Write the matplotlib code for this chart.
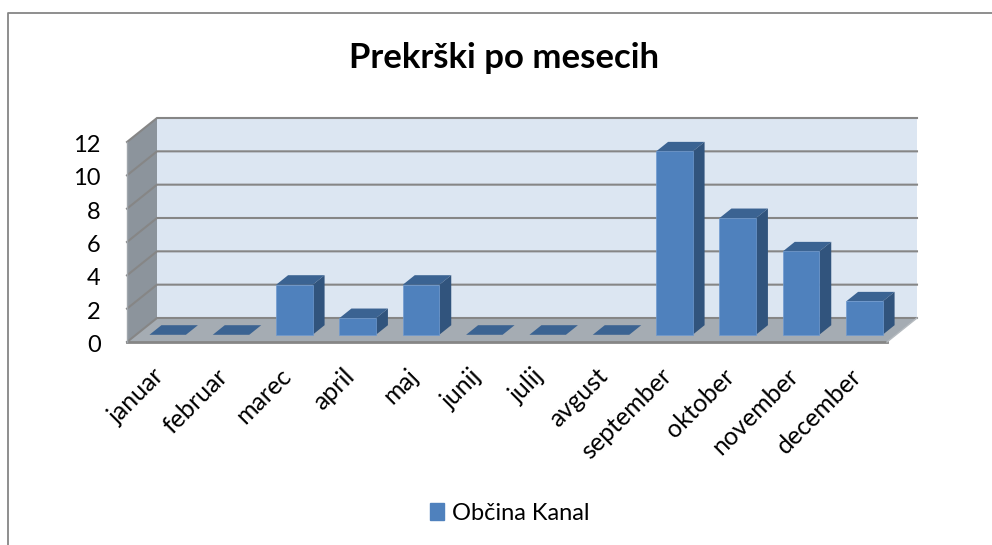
import matplotlib
matplotlib.use("Agg")
import matplotlib.pyplot as plt
from matplotlib.patches import Polygon
from matplotlib.transforms import ScaledTranslation

plt.rcParams["font.family"] = ["Lato", "DejaVu Sans"]

MONTHS = ["januar", "februar", "marec", "april", "maj", "junij", "julij",
          "avgust", "september", "oktober", "november", "december"]
VALUES = [0, 0, 3, 1, 3, 0, 0, 0, 11, 7, 5, 2]
Y_TICKS = [0, 2, 4, 6, 8, 10, 12]
SERIES = "Občina Kanal"
TITLE = "Prekrški po mesecih"

W, H = 992, 545
# depth of the floor, in data units
DX = 30 / (760 / 12)
DY = 24 / (200 / 12)
BAR_W = 36.5 / (760 / 12)

FRONT = "#4f81bd"
SIDE = "#31547d"
TOP = "#3b6392"
WALL = "#dce6f2"
SIDE_WALL = "#8c949c"
FLOOR = "#a5acb3"
GRID = "#868686"


def skew(x, y, d):
    # puts a point d of the way back into the chart depth
    return x + d * DX, y + d * DY


def poly(ax, pts, color, z):
    ax.add_patch(Polygon(pts, closed=True, facecolor=color, edgecolor="none",
                         clip_on=False, zorder=z))


fig = plt.figure(figsize=(W / 100, H / 100), dpi=100)

# frame of the chart object, open on the right and bottom
fig.add_artist(plt.Line2D([7.5 / W, 7.5 / W, 1], [0, 1 - 12.5 / H, 1 - 12.5 / H],
                          color="#868686", lw=1.3))

ax = fig.add_axes([127 / W, 1 - 342 / H, 760 / W, 200 / H])
ax.set_xlim(-0.5, 11.5)
ax.set_ylim(0, 12)
ax.patch.set_visible(False)
for s in ax.spines.values():
    s.set_visible(False)

x0, x1 = -0.5, 11.5
y0, y1 = Y_TICKS[0], Y_TICKS[-1]

# walls and floor
poly(ax, [skew(x0, y0, 1), skew(x1, y0, 1), skew(x1, y1, 1), skew(x0, y1, 1)], WALL, 1)
poly(ax, [skew(x0, y0, 0), skew(x0, y0, 1), skew(x0, y1, 1), skew(x0, y1, 0)], SIDE_WALL, 1)
poly(ax, [skew(x0, y0, 0), skew(x1, y0, 0), skew(x1, y0, 1), skew(x0, y0, 1)], FLOOR, 1)

# gridlines go along the back wall and down the side wall
for t in Y_TICKS:
    a = skew(x0, t, 0)
    b = skew(x0, t, 1)
    c = skew(x1, t, 1)
    ax.plot([a[0], b[0], c[0]], [a[1], b[1], c[1]], color=GRID, lw=1.5,
            clip_on=False, zorder=2, solid_joinstyle="miter")
ax.plot([x0, x1], [y0, y0], color=GRID, lw=2, clip_on=False, zorder=2)
ax.plot([x1, skew(x1, y0, 1)[0]], [y0, skew(x1, y0, 1)[1]], color="#b5babf", lw=1,
        clip_on=False, zorder=2)
ax.plot([x0, x0], [y0, y1], color="#a0a6ac", lw=1, clip_on=False, zorder=2)

# bars
d0, d1 = 0.3, 0.7
for i, v in enumerate(VALUES):
    left = i - BAR_W / 2
    right = left + BAR_W
    left_f, base = skew(left, 0, d0)
    right_f, top_f = skew(right, v, d0)
    poly(ax, [skew(left, v, d0), skew(right, v, d0), skew(right, v, d1), skew(left, v, d1)], TOP, 3)
    if v > 0:
        poly(ax, [skew(right, 0, d0), skew(right, 0, d1), skew(right, v, d1), skew(right, v, d0)], SIDE, 3)
        ax.bar(left_f, top_f - base, width=BAR_W, bottom=base, align="edge", color=FRONT,
               edgecolor="#6f9ad0", linewidth=0.5, zorder=4, clip_on=False)

ax.set_xticks(range(len(MONTHS)))
ax.set_xticklabels(MONTHS, rotation=45, ha="right", rotation_mode="anchor",
                   fontsize=18, color="black")
ax.set_yticks(Y_TICKS)
ax.tick_params(axis="y", labelsize=17, length=0, pad=19)
ax.tick_params(axis="x", length=0, pad=16)

# small nudges of the tick labels, in points
for lab in ax.get_xticklabels():
    lab.set_transform(lab.get_transform() + ScaledTranslation(-6 / 100, 0, fig.dpi_scale_trans))
for lab in ax.get_yticklabels():
    lab.set_transform(lab.get_transform() + ScaledTranslation(0, -1.5 / 100, fig.dpi_scale_trans))

fig.text(504 / W, 1 - 58 / H, TITLE, ha="center", va="center", fontsize=25,
         fontweight="bold", color="black")

# legend
handle = plt.Rectangle((0, 0), 1, 1, color=FRONT)
fig.legend([handle], [SERIES], loc="center", bbox_to_anchor=(510 / W, 1 - 513 / H),
           frameon=False, fontsize=17, handlelength=0.6, handleheight=0.7, handletextpad=0.33)

fig.savefig("out.png", dpi=100)
